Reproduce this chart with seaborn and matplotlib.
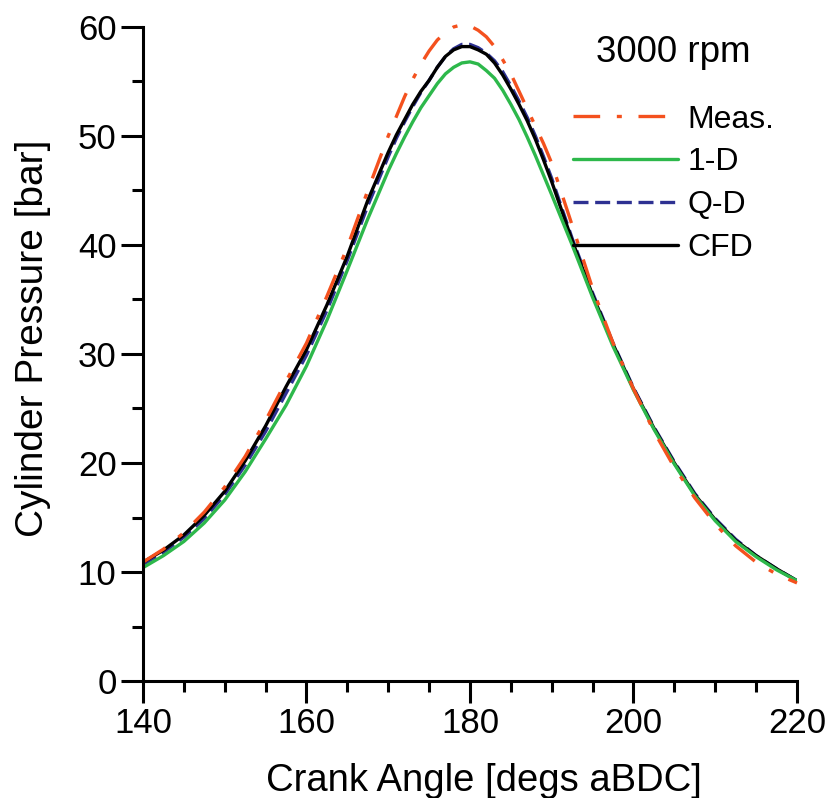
import matplotlib

matplotlib.use("Agg")
import matplotlib.pyplot as plt
import numpy as np
import pandas as pd
import seaborn as sns
from matplotlib.ticker import MultipleLocator

# crank angle samples [degs aBDC]; denser around TDC where the curves bend hardest
crank_angle = [140, 142.5, 145, 147.5, 150, 152.5, 155, 157.5, 160, 162.5, 165, 167.5,
               170, 171, 172, 173, 174, 175, 176, 177, 178, 179, 180,
               181, 182, 183, 184, 185, 186, 187, 188, 189, 190,
               192.5, 195, 197.5, 200, 202.5, 205, 207.5, 210, 212.5, 215, 217.5, 220]

# cylinder pressure [bar]
p_meas = [10.9, 12.1, 13.6, 15.5, 17.8, 20.6, 23.9, 27.5, 31.0, 35.3, 39.8, 45.0,
          50.0, 51.8, 53.6, 55.2, 56.6, 57.8, 58.8, 59.5, 60.0, 60.2, 60.1,
          59.7, 59.1, 58.2, 57.0, 55.7, 54.1, 52.5, 50.9, 49.3, 47.5,
          41.8, 36.0, 31.0, 26.8, 22.9, 19.6, 16.8, 14.4, 12.4, 10.9, 9.8, 9.0]
p_1d = [10.4, 11.5, 12.8, 14.5, 16.6, 19.2, 22.2, 25.3, 28.9, 33.1, 37.7, 42.4,
        46.8, 48.4, 49.9, 51.3, 52.6, 53.7, 54.8, 55.7, 56.3, 56.7, 56.8,
        56.6, 56.0, 55.3, 54.2, 52.9, 51.5, 49.9, 48.2, 46.4, 44.6,
        40.0, 35.2, 30.7, 26.7, 23.1, 19.9, 17.0, 14.7, 12.8, 11.4, 10.2, 9.2]
p_qd = [10.7, 11.8, 13.2, 14.9, 17.1, 19.8, 22.9, 26.4, 29.9, 34.0, 38.6, 43.6,
        48.1, 49.8, 51.3, 52.7, 54.0, 55.1, 56.3, 57.3, 58.0, 58.4, 58.4,
        58.1, 57.6, 56.9, 55.9, 54.6, 53.2, 51.7, 50.0, 48.1, 46.1,
        40.6, 35.6, 31.0, 26.9, 23.3, 20.1, 17.2, 14.9, 13.0, 11.5, 10.3, 9.2]
p_cfd = [10.9, 12.0, 13.4, 15.2, 17.4, 20.2, 23.4, 27.0, 30.4, 34.5, 39.0, 44.1,
         48.5, 50.1, 51.5, 52.9, 54.1, 55.1, 56.3, 57.3, 57.9, 58.2, 58.2,
         57.9, 57.5, 56.7, 55.6, 54.3, 52.9, 51.4, 49.7, 47.8, 45.8,
         40.4, 35.4, 30.9, 26.8, 23.2, 20.0, 17.1, 14.8, 12.9, 11.5, 10.3, 9.2]

labels = ["Meas.", "1-D", "Q-D", "CFD"]
colors = {"Meas.": "#F4511E", "1-D": "#2DB84B", "Q-D": "#2E3192", "CFD": "#000000"}
styles = {"Meas.": (0, (8, 5, 1.5, 5)), "1-D": "-", "Q-D": (0, (4.5, 2)), "CFD": "-"}
draw_order = ["Q-D", "CFD", "1-D", "Meas."]

df = pd.DataFrame({
    "angle": crank_angle * 4,
    "pressure": p_meas + p_1d + p_qd + p_cfd,
    "model": np.repeat(labels, len(crank_angle)),
})

sns.set_theme(style="ticks")
plt.rcParams["font.family"] = ["Liberation Sans", "DejaVu Sans"]
plt.rcParams["text.color"] = "black"
plt.rcParams["axes.labelcolor"] = "black"
plt.rcParams["xtick.color"] = "black"
plt.rcParams["ytick.color"] = "black"
plt.rcParams["axes.edgecolor"] = "black"

fig = plt.figure(figsize=(8.27, 7.98), dpi=100)
ax = fig.add_axes([0.1729, 0.1466, 0.7908, 0.8196])

handles = {}
for name in draw_order:
    sub = df[df["model"] == name]
    sns.lineplot(data=sub, x="angle", y="pressure", ax=ax, color=colors[name],
                 linestyle=styles[name], linewidth=2.4, label=name)
    handles[name] = ax.get_lines()[-1]
# measured peak pokes just above the 60 bar limit in the original
handles["Meas."].set_clip_on(False)

ax.set_xlim(140, 220)
ax.set_ylim(0, 60)
ax.xaxis.set_major_locator(MultipleLocator(20))
ax.xaxis.set_minor_locator(MultipleLocator(5))
ax.yaxis.set_major_locator(MultipleLocator(10))
ax.yaxis.set_minor_locator(MultipleLocator(5))

for side in ["top", "right"]:
    ax.spines[side].set_visible(False)
for side in ["left", "bottom"]:
    ax.spines[side].set_linewidth(2.2)

ax.tick_params(which="major", direction="out", length=16, width=2.2, labelsize=25, pad=3)
ax.tick_params(which="minor", direction="out", length=8, width=2.2)

ax.set_xlabel("Crank Angle [degs aBDC]", fontsize=27.5)
ax.set_ylabel("Cylinder Pressure [bar]", fontsize=28)
ax.xaxis.set_label_coords(0.522, -0.125)
ax.yaxis.set_label_coords(-0.14, 0.524)

leg = ax.legend([handles[n] for n in labels], labels, title="3000 rpm",
                frameon=False, loc="upper left", bbox_to_anchor=(0.623, 1.022),
                fontsize=23, title_fontsize=26.5, handlelength=3.3, handletextpad=0.3,
                labelspacing=0.4, borderpad=0.2)
leg._legend_box.sep = 25

fig.savefig("out.png", dpi=100)
